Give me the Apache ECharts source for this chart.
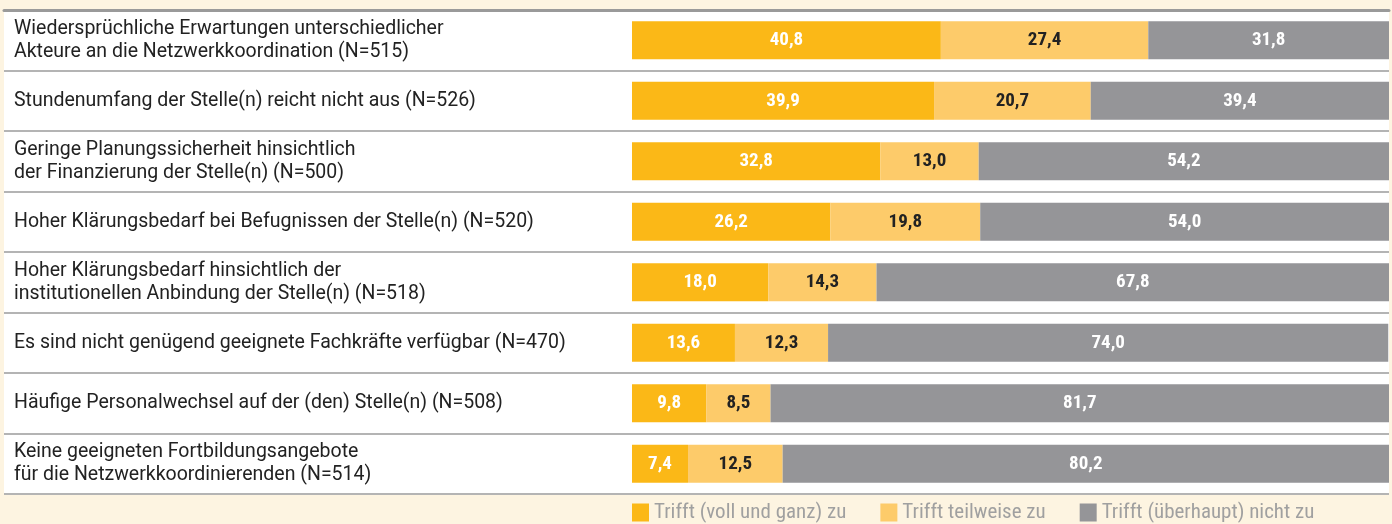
<!DOCTYPE html>
<html>
<head>
<meta charset="utf-8">
<script src="https://cdn.jsdelivr.net/npm/echarts@6/dist/echarts.min.js"></script>
<style>
  html, body { margin: 0; padding: 0; background: #fdf4e1; }
  #chart { width: 1392px; height: 524px; }
</style>
</head>
<body>
<div id="chart"></div>
<script>
// Kategorien (Zeilen von oben nach unten)
var categories = [
    'Wiedersprüchliche Erwartungen unterschiedlicher\nAkteure an die Netzwerkkoordination (N=515)',
    'Stundenumfang der Stelle(n) reicht nicht aus (N=526)',
    'Geringe Planungssicherheit hinsichtlich\nder Finanzierung der Stelle(n) (N=500)',
    'Hoher Klärungsbedarf bei Befugnissen der Stelle(n) (N=520)',
    'Hoher Klärungsbedarf hinsichtlich der\ninstitutionellen Anbindung der Stelle(n) (N=518)',
    'Es sind nicht genügend geeignete Fachkräfte verfügbar (N=470)',
    'Häufige Personalwechsel auf der (den) Stelle(n) (N=508)',
    'Keine geeigneten Fortbildungsangebote\nfür die Netzwerkkoordinierenden (N=514)'
];
var seriesNames = ['Trifft (voll und ganz) zu', 'Trifft teilweise zu', 'Trifft (überhaupt) nicht zu'];
var trifftVoll = [40.8, 39.9, 32.8, 26.2, 18.0, 13.6, 9.8, 7.4];
var trifftTeilweise = [27.4, 20.7, 13.0, 19.8, 14.3, 12.3, 8.5, 12.5];
var trifftNicht = [31.8, 39.4, 54.2, 54.0, 67.8, 74.0, 81.7, 80.2];

var condFont = '"Roboto Condensed", "Roboto", sans-serif';
var textFont = '"Roboto", sans-serif';
var colors = ['#fbb817', '#fdcb6a', '#959598'];
var labelColors = ['#ffffff', '#222222', '#ffffff'];

//Zahl mit Komma formatieren
function fmt(v) {
    return v.toFixed(1).replace('.', ',');
}

function makeSeries(name, data, idx) {
    return {
        name: name,
        type: 'bar',
        stack: 'total',
        xAxisIndex: 1,
        yAxisIndex: 1,
        barWidth: 38,
        data: data,
        itemStyle: {color: colors[idx]},
        label: {
            show: true,
            position: 'inside',
            color: labelColors[idx],
            fontFamily: condFont,
            fontWeight: 'bold',
            fontSize: 19,
            formatter: function (p) {
                return fmt(p.value);
            }
        }
    };
}

var myChart = echarts.init(document.getElementById('chart'));
myChart.setOption({
    backgroundColor: '#fdf4e1',
    animation: false,
    legend: {
        left: 627,
        top: 497,
        itemWidth: 17,
        itemHeight: 18,
        itemGap: 34,
        icon: 'rect',
        data: seriesNames,
        textStyle: {color: '#a0a0a0', fontSize: 21, fontFamily: condFont}
    },
    grid: [
        {left: 4, right: 3, top: 10, bottom: 30, show: true, backgroundColor: '#ffffff', borderWidth: 0},
        {left: 632, right: 3, top: 10, bottom: 30}
    ],
    xAxis: [
        {
            gridIndex: 0, type: 'value', position: 'top', min: 0, max: 1,
            axisLine: {show: true, lineStyle: {color: '#9a9a9a', width: 3}},
            axisTick: {show: false}, axisLabel: {show: false}, splitLine: {show: false}
        },
        {
            gridIndex: 1, type: 'value', min: 0, max: 100,
            axisLine: {show: false}, axisTick: {show: false}, axisLabel: {show: false}, splitLine: {show: false}
        }
    ],
    yAxis: [
        {
            gridIndex: 0, type: 'category', inverse: true, data: categories,
            axisLine: {show: false}, axisTick: {show: false},
            splitLine: {show: true, lineStyle: {color: '#b4b4b4', width: 2}},
            axisLabel: {
                inside: true, margin: 10, align: 'left',
                color: '#222222', fontSize: 19.5, lineHeight: 23, fontFamily: textFont
            }
        },
        {
            gridIndex: 1, type: 'category', inverse: true, data: categories,
            axisLine: {show: false}, axisTick: {show: false}, axisLabel: {show: false}, splitLine: {show: false}
        }
    ],
    series: [
        makeSeries(seriesNames[0], trifftVoll, 0),
        makeSeries(seriesNames[1], trifftTeilweise, 1),
        makeSeries(seriesNames[2], trifftNicht, 2)
    ]
});
</script>
</body>
</html>
